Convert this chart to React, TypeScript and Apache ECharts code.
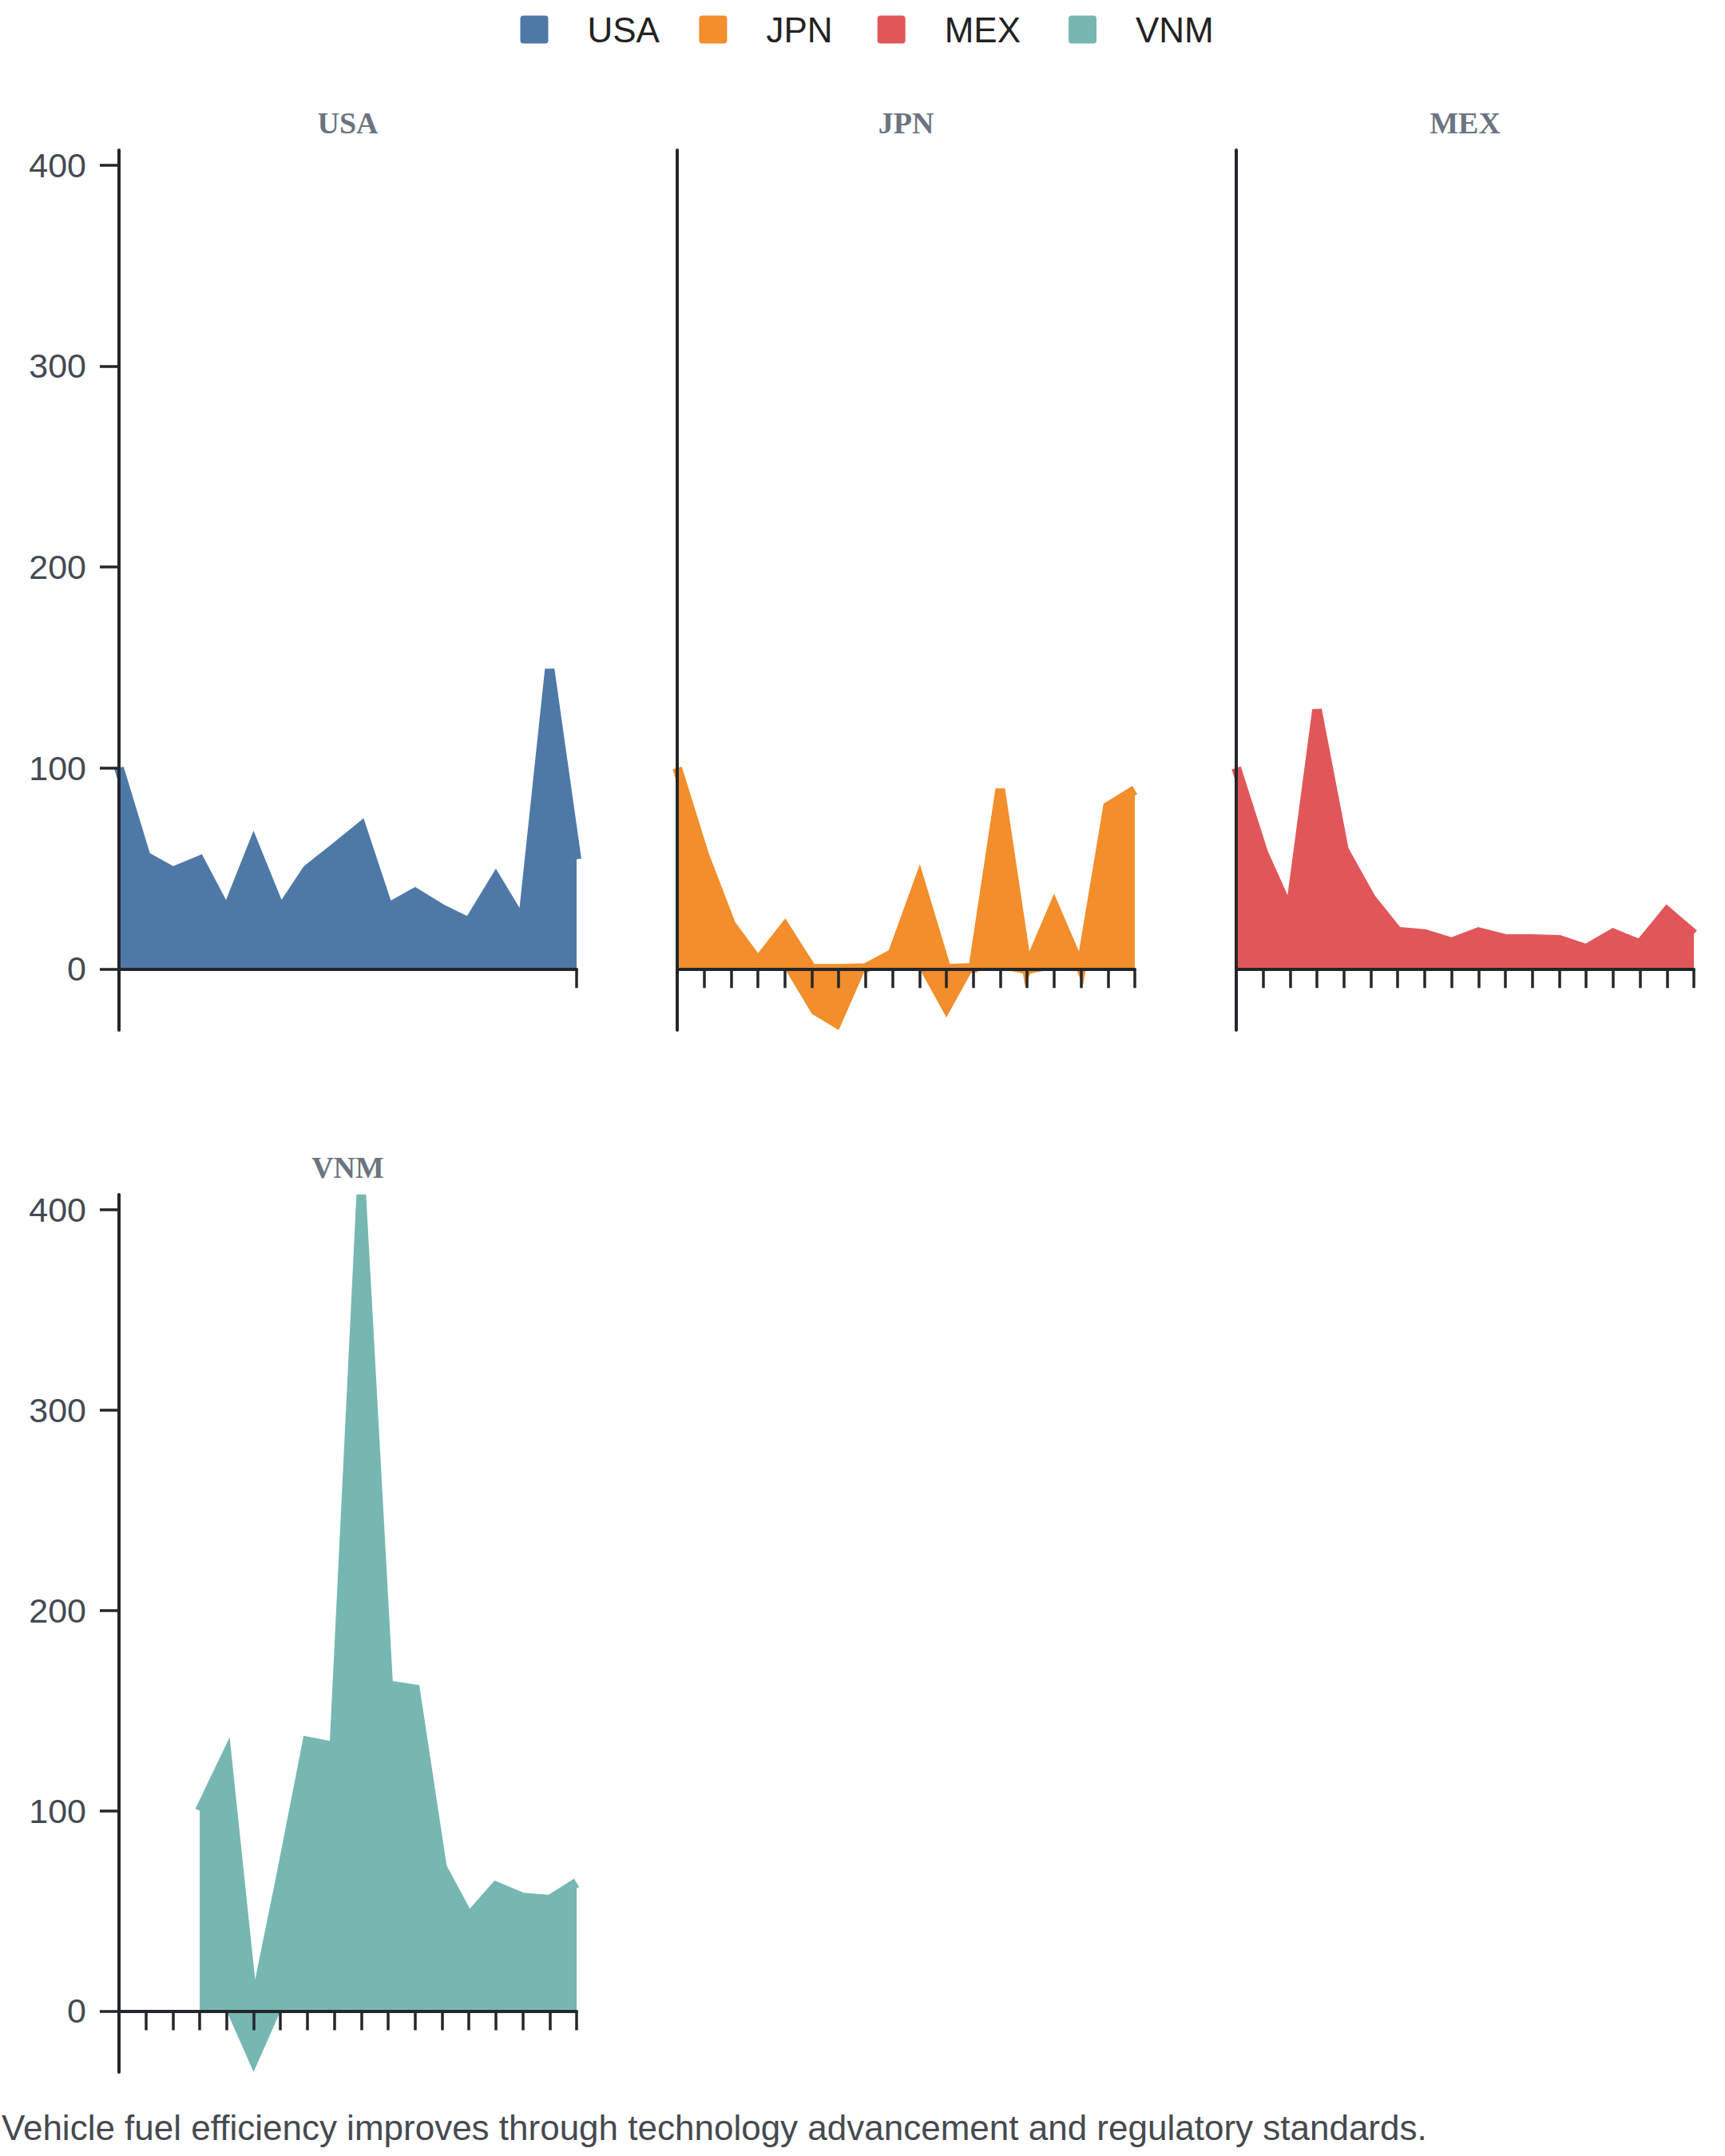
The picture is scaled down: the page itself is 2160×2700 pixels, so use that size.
import React, { useEffect, useRef } from 'react';
import * as echarts from 'echarts';

// ---------------- data ----------------
const YEARS = [
  '2006', '2007', '2008', '2009', '2010', '2011', '2012', '2013', '2014',
  '2015', '2016', '2017', '2018', '2019', '2020', '2021', '2022', '2023',
];

const COUNTRIES = ['USA', 'JPN', 'MEX', 'VNM'];

const USA_VALUES = [100, 55.9, 48.5, 54, 28.6, 62.4, 29.3, 49.4, 60, 70.9, 30.5, 38, 29.8, 23.2, 45.3, 23, 149.1, 54.5];
const JPN_VALUES = [100, 56.8, 22, 3.9, 21, -22.4, -30.5, 0.4, 7.5, 44.5, -24.2, 0.5, 89.5, -2.7, 31.4, 0.3, 80.7, 89];
const MEX_VALUES = [100, 58, 28, 129, 59.3, 35.2, 18.5, 17.3, 13.2, 18.3, 14.9, 14.8, 14.4, 10, 17.7, 12.3, 28.7, 17.3];
const VNM_VALUES = [null, null, null, 100, 128, -30.4, 66, 134.6, 132, 407.5, 162.6, 160.6, 71.9, 46.9, 62.3, 56.7, 55.6, 64];

const Y_TICK_VALUES = [0, 100, 200, 300, 400];

const COUNTRY_COLORS = ['#4e79a7', '#f28e2b', '#e15759', '#76b7b2'];

const CAPTION = 'Vehicle fuel efficiency improves through technology advancement and regulatory standards.';

// ---------------- styling / layout ----------------
const SANS = "'Liberation Sans', Arial, Helvetica, sans-serif";
const SERIF = "'Liberation Serif', 'Times New Roman', serif";
const AXIS_COLOR = '#23262b';
const LABEL_COLOR = '#444a52';
const TITLE_COLOR = '#6c7480';
const CAPTION_COLOR = '#464a50';

const PANEL_W = 573;
const PANELS = [
  { left: 149, top: 188, height: 1102 },
  { left: 848, top: 188, height: 1102 },
  { left: 1548, top: 188, height: 1102 },
  { left: 149, top: 1496, height: 1099 },
];
const LEGEND_X = [651.5, 875.4, 1098.7, 1338];
const LEGEND_ICON =
  'path://M4,0H31A4,4,0,0,1,35,4V31A4,4,0,0,1,31,35H4A4,4,0,0,1,0,31V4A4,4,0,0,1,4,0Z';

function buildOption() {
  const valuesByCountry = [USA_VALUES, JPN_VALUES, MEX_VALUES, VNM_VALUES];
  const all: number[] = [];
  valuesByCountry.forEach((arr) => arr.forEach((v) => { if (v != null) all.push(v as number); }));
  const yMin = Math.min(...all);
  const yMax = Math.max(...all);

  const legend = COUNTRIES.map((c, i) => ({
    data: [c],
    left: LEGEND_X[i],
    top: 15,
    padding: 0,
    itemWidth: 35,
    itemHeight: 35,
    itemGap: 0,
    icon: LEGEND_ICON,
    itemStyle: { borderWidth: 0 },
    textStyle: {
      fontSize: 44,
      fontFamily: SANS,
      color: '#222222',
      padding: [0, 0, 0, 44],
      lineHeight: 35,
    },
  }));

  const title = COUNTRIES.map((c, i) => ({
    text: c,
    left: PANELS[i].left + PANEL_W / 2,
    top: PANELS[i].top - 34,
    textAlign: 'center',
    textVerticalAlign: 'middle',
    padding: 0,
    textStyle: {
      fontFamily: SERIF,
      fontWeight: 'bold',
      fontSize: 38,
      color: TITLE_COLOR,
    },
  }));

  const grid = PANELS.map((p) => ({
    left: p.left,
    top: p.top,
    width: PANEL_W,
    height: p.height,
    containLabel: false,
    outerBoundsMode: 'none',
  }));

  const xAxis = COUNTRIES.map((_, i) => ({
    type: 'category',
    gridIndex: i,
    data: YEARS,
    boundaryGap: false,
    z: 10,
    axisLine: { show: true, onZero: true, lineStyle: { color: AXIS_COLOR, width: 4 } },
    axisTick: {
      show: true,
      interval: i === 0 ? 16 : 0,
      length: 24,
      lineStyle: { color: AXIS_COLOR, width: 3.5 },
    },
    axisLabel: { show: false },
    splitLine: { show: false },
  }));

  const yAxis = COUNTRIES.map((_, i) => {
    const showLab = i === 0 || i === 3;
    return {
      type: 'value',
      gridIndex: i,
      min: yMin,
      max: yMax,
      z: 10,
      axisLine: { show: true, onZero: false, lineStyle: { color: AXIS_COLOR, width: 4 } },
      axisTick: {
        show: showLab,
        length: 24,
        customValues: Y_TICK_VALUES,
        lineStyle: { color: AXIS_COLOR, width: 3.5 },
      },
      axisLabel: {
        show: showLab,
        customValues: Y_TICK_VALUES,
        margin: 41,
        fontSize: 43,
        fontFamily: SANS,
        color: LABEL_COLOR,
      },
      splitLine: { show: false },
    };
  });

  const series: any[] = [];
  COUNTRIES.forEach((c, i) => {
    const vals = valuesByCountry[i];
    const color = COUNTRY_COLORS[i];
    const below = vals.map((v) => (v == null ? null : Math.min(v as number, 0)));
    const above = vals.map((v) => (v == null ? null : Math.max(v as number, 0)));
    series.push({
      name: c,
      type: 'line',
      xAxisIndex: i,
      yAxisIndex: i,
      data: below,
      symbol: 'none',
      showSymbol: false,
      color,
      lineStyle: { width: 0, color },
      areaStyle: { color, opacity: 1 },
      emphasis: { disabled: true },
      silent: true,
      z: 2,
    });
    series.push({
      name: c,
      type: 'line',
      xAxisIndex: i,
      yAxisIndex: i,
      data: above,
      symbol: 'none',
      showSymbol: false,
      color,
      lineStyle: { width: 12, color, join: 'miter', miterLimit: 5, cap: 'butt' },
      areaStyle: { color, opacity: 1 },
      emphasis: { disabled: true },
      silent: true,
      z: 3,
    });
  });

  return {
    animation: false,
    backgroundColor: '#ffffff',
    legend,
    title,
    grid,
    xAxis,
    yAxis,
    series,
    graphic: [
      {
        type: 'text',
        x: 2,
        y: 2664,
        silent: true,
        style: {
          text: CAPTION,
          fontSize: 44,
          fontFamily: SANS,
          fill: CAPTION_COLOR,
          align: 'left',
          verticalAlign: 'middle',
        },
      },
    ],
  };
}

export default function App() {
  const ref = useRef<HTMLDivElement>(null);
  useEffect(() => {
    if (!ref.current) return;
    const chart = echarts.init(ref.current, null, { renderer: 'svg', width: 2160, height: 2700 });
    chart.setOption(buildOption() as any);
    return () => {
      chart.dispose();
    };
  }, []);
  return (
    <div
      ref={ref}
      style={{ position: 'absolute', left: 0, top: 0, width: 2160, height: 2700 }}
    />
  );
}
